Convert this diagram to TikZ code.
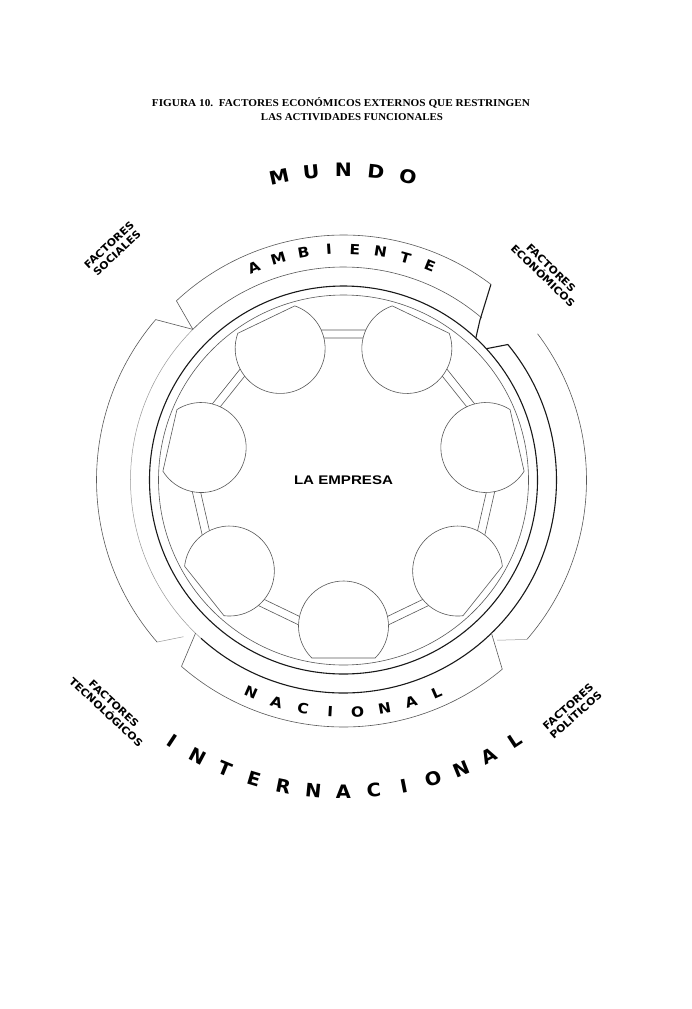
\documentclass[tikz,border=0pt]{standalone}
\usepackage{fontspec}
\setmainfont{Liberation Serif}
\newfontfamily\lsans{Liberation Sans}
\newfontfamily\dsans{DejaVu Sans}
\usetikzlibrary{calc}
\begin{document}
\begin{tikzpicture}[x=1pt,y=1pt,
  thinln/.style={line width=0.6pt, draw=black!65},
  faintln/.style={line width=0.5pt, draw=black!40},
  darkln/.style={line width=1.1pt, draw=black!90},
  lobe/.style={line width=0.6pt, draw=black!65, fill=white},
  bigletter/.style={font=\dsans\bfseries\fontsize{18.5}{18.5}\selectfont, inner sep=0pt},
  midletter/.style={font=\dsans\bfseries\fontsize{14}{14}\selectfont, inner sep=0pt},
  factor/.style={font=\dsans\bfseries\fontsize{10.2}{11.5}\selectfont, align=center, inner sep=0pt},
  title/.style={font=\bfseries\fontsize{10.5}{12}\selectfont, inner sep=0pt}]
\useasboundingbox (0,0) rectangle (692,-1009);
\fill[white] (0,0) rectangle (692,-1009);
% title
\node[title] (t1) at (341,-103) {\resizebox{378pt}{\height}{FIGURA 10.\ \ FACTORES ECONÓMICOS EXTERNOS QUE RESTRINGEN}};
\node[title] (t2) at (352,-117) {\resizebox{182pt}{\height}{LAS ACTIVIDADES FUNCIONALES}};
% factor labels
\node[factor, rotate=43] (fsoc) at (113,-249) {\scalebox{1.08}[1]{FACTORES}\\\scalebox{1.08}[1]{SOCIALES}};
\node[factor, rotate=-44] (feco) at (547,-272) {\scalebox{1.08}[1]{FACTORES}\\\scalebox{1.08}[1]{ECONÓMICOS}};
\node[factor, rotate=-43] (ftec) at (110,-708) {\scalebox{1.08}[1]{FACTORES}\\\scalebox{1.08}[1]{TECNOLÓGICOS}};
\node[factor, rotate=42] (fpol) at (572,-711) {\scalebox{1.08}[1]{FACTORES}\\\scalebox{1.08}[1]{POLÍTICOS}};
\begin{scope}[shift={(343.5,-480)}]
  % channel heptagons
  \draw[thinln] (-90:157.6) -- (-38.571:157.6) -- (12.857:157.6) -- (64.286:157.6) -- (115.714:157.6) -- (167.143:157.6) -- (218.571:157.6) -- cycle;
  \draw[thinln] (-90:166.5) -- (-38.571:166.5) -- (12.857:166.5) -- (64.286:166.5) -- (115.714:166.5) -- (167.143:166.5) -- (218.571:166.5) -- cycle;
  % lobes
  \foreach \k in {0,...,6}{
    \pgfmathsetmacro\p{-90+51.4286*\k}
    \draw[lobe] ($(\p:146)+(\p+44.6:45)$) arc[start angle=\p+44.6, end angle=\p+315.4, radius=45] -- cycle;
  }
  \node[font=\lsans\bfseries\fontsize{12.5}{12.5}\selectfont, inner sep=0pt] (empresa) at (0,0) {\resizebox{99pt}{\height}{LA EMPRESA}};
  % main circle
  \draw[thinln] (0,0) circle[radius=185];
  \draw[darkln] (0,0) circle[radius=194];
  % ring at 213
  \draw[thinln] (49.5:213) arc[start angle=49.5, end angle=135, radius=213];
  \draw[faintln] (135:213) arc[start angle=135, end angle=228, radius=213];
  \draw[darkln] (228:213) arc[start angle=228, end angle=399.5, radius=213];
  % ambiente band
  \draw[thinln] (133:245) arc[start angle=133, end angle=53, radius=245];
  \draw[thinln] (133:245) -- (135:213);
  \draw[darkln] (53:245) -- (49.5:210) -- (47:194);
  % right band cap
  \draw[darkln] (42.6:194) -- (39.5:213);
  % right outer arc
  \draw[thinln] (37:243) arc[start angle=37, end angle=-41, radius=243];
  \draw[faintln] (-41:243) -- (-46.2:222);
  % nacional band
  \draw[thinln] (-131:247) arc[start angle=-131, end angle=-50, radius=247];
  \draw[thinln] (-131:247) -- (-134:213);
  \draw[thinln] (-50:247) -- (-46:213);
  % left band
  \draw[thinln] (139.5:247) arc[start angle=139.5, end angle=221, radius=247];
  \draw[thinln] (139.5:247) -- (135:213);
  \draw[faintln] (221:247) -- (-135.6:224);
  % MUNDO
  \foreach \ch [count=\i from 0] in {M,U,N,D,O}{
    \pgfmathsetmacro\a{102-6*\i}
    \node[bigletter, rotate=\a-90] (mu\i) at (\a:310) {\scalebox{1.1}[1]{\ch}};
  }
  % INTERNACIONAL
  \foreach \ch [count=\i from 0] in {I,N,T,E,R,N,A,C,I,O,N,A,L}{
    \pgfmathsetmacro\a{-123.4+5.567*\i}
    \node[bigletter, rotate=\a+90] (in\i) at (\a:312) {\scalebox{1.05}[1]{\ch}};
  }
  % AMBIENTE
  \foreach \ch [count=\i from 0] in {A,M,B,I,E,N,T,E}{
    \pgfmathsetmacro\a{112.8-6.4*\i}
    \node[midletter, rotate=\a-90] (am\i) at (\a:231) {\scalebox{1.1}[1]{\ch}};
  }
  % NACIONAL
  \foreach \ch [count=\i from 0] in {N,A,C,I,O,N,A,L}{
    \pgfmathsetmacro\a{-113.5+6.74*\i}
    \node[midletter, rotate=\a+90] (na\i) at (\a:232) {\scalebox{1.1}[1]{\ch}};
  }
\end{scope}
\end{tikzpicture}
\end{document}
